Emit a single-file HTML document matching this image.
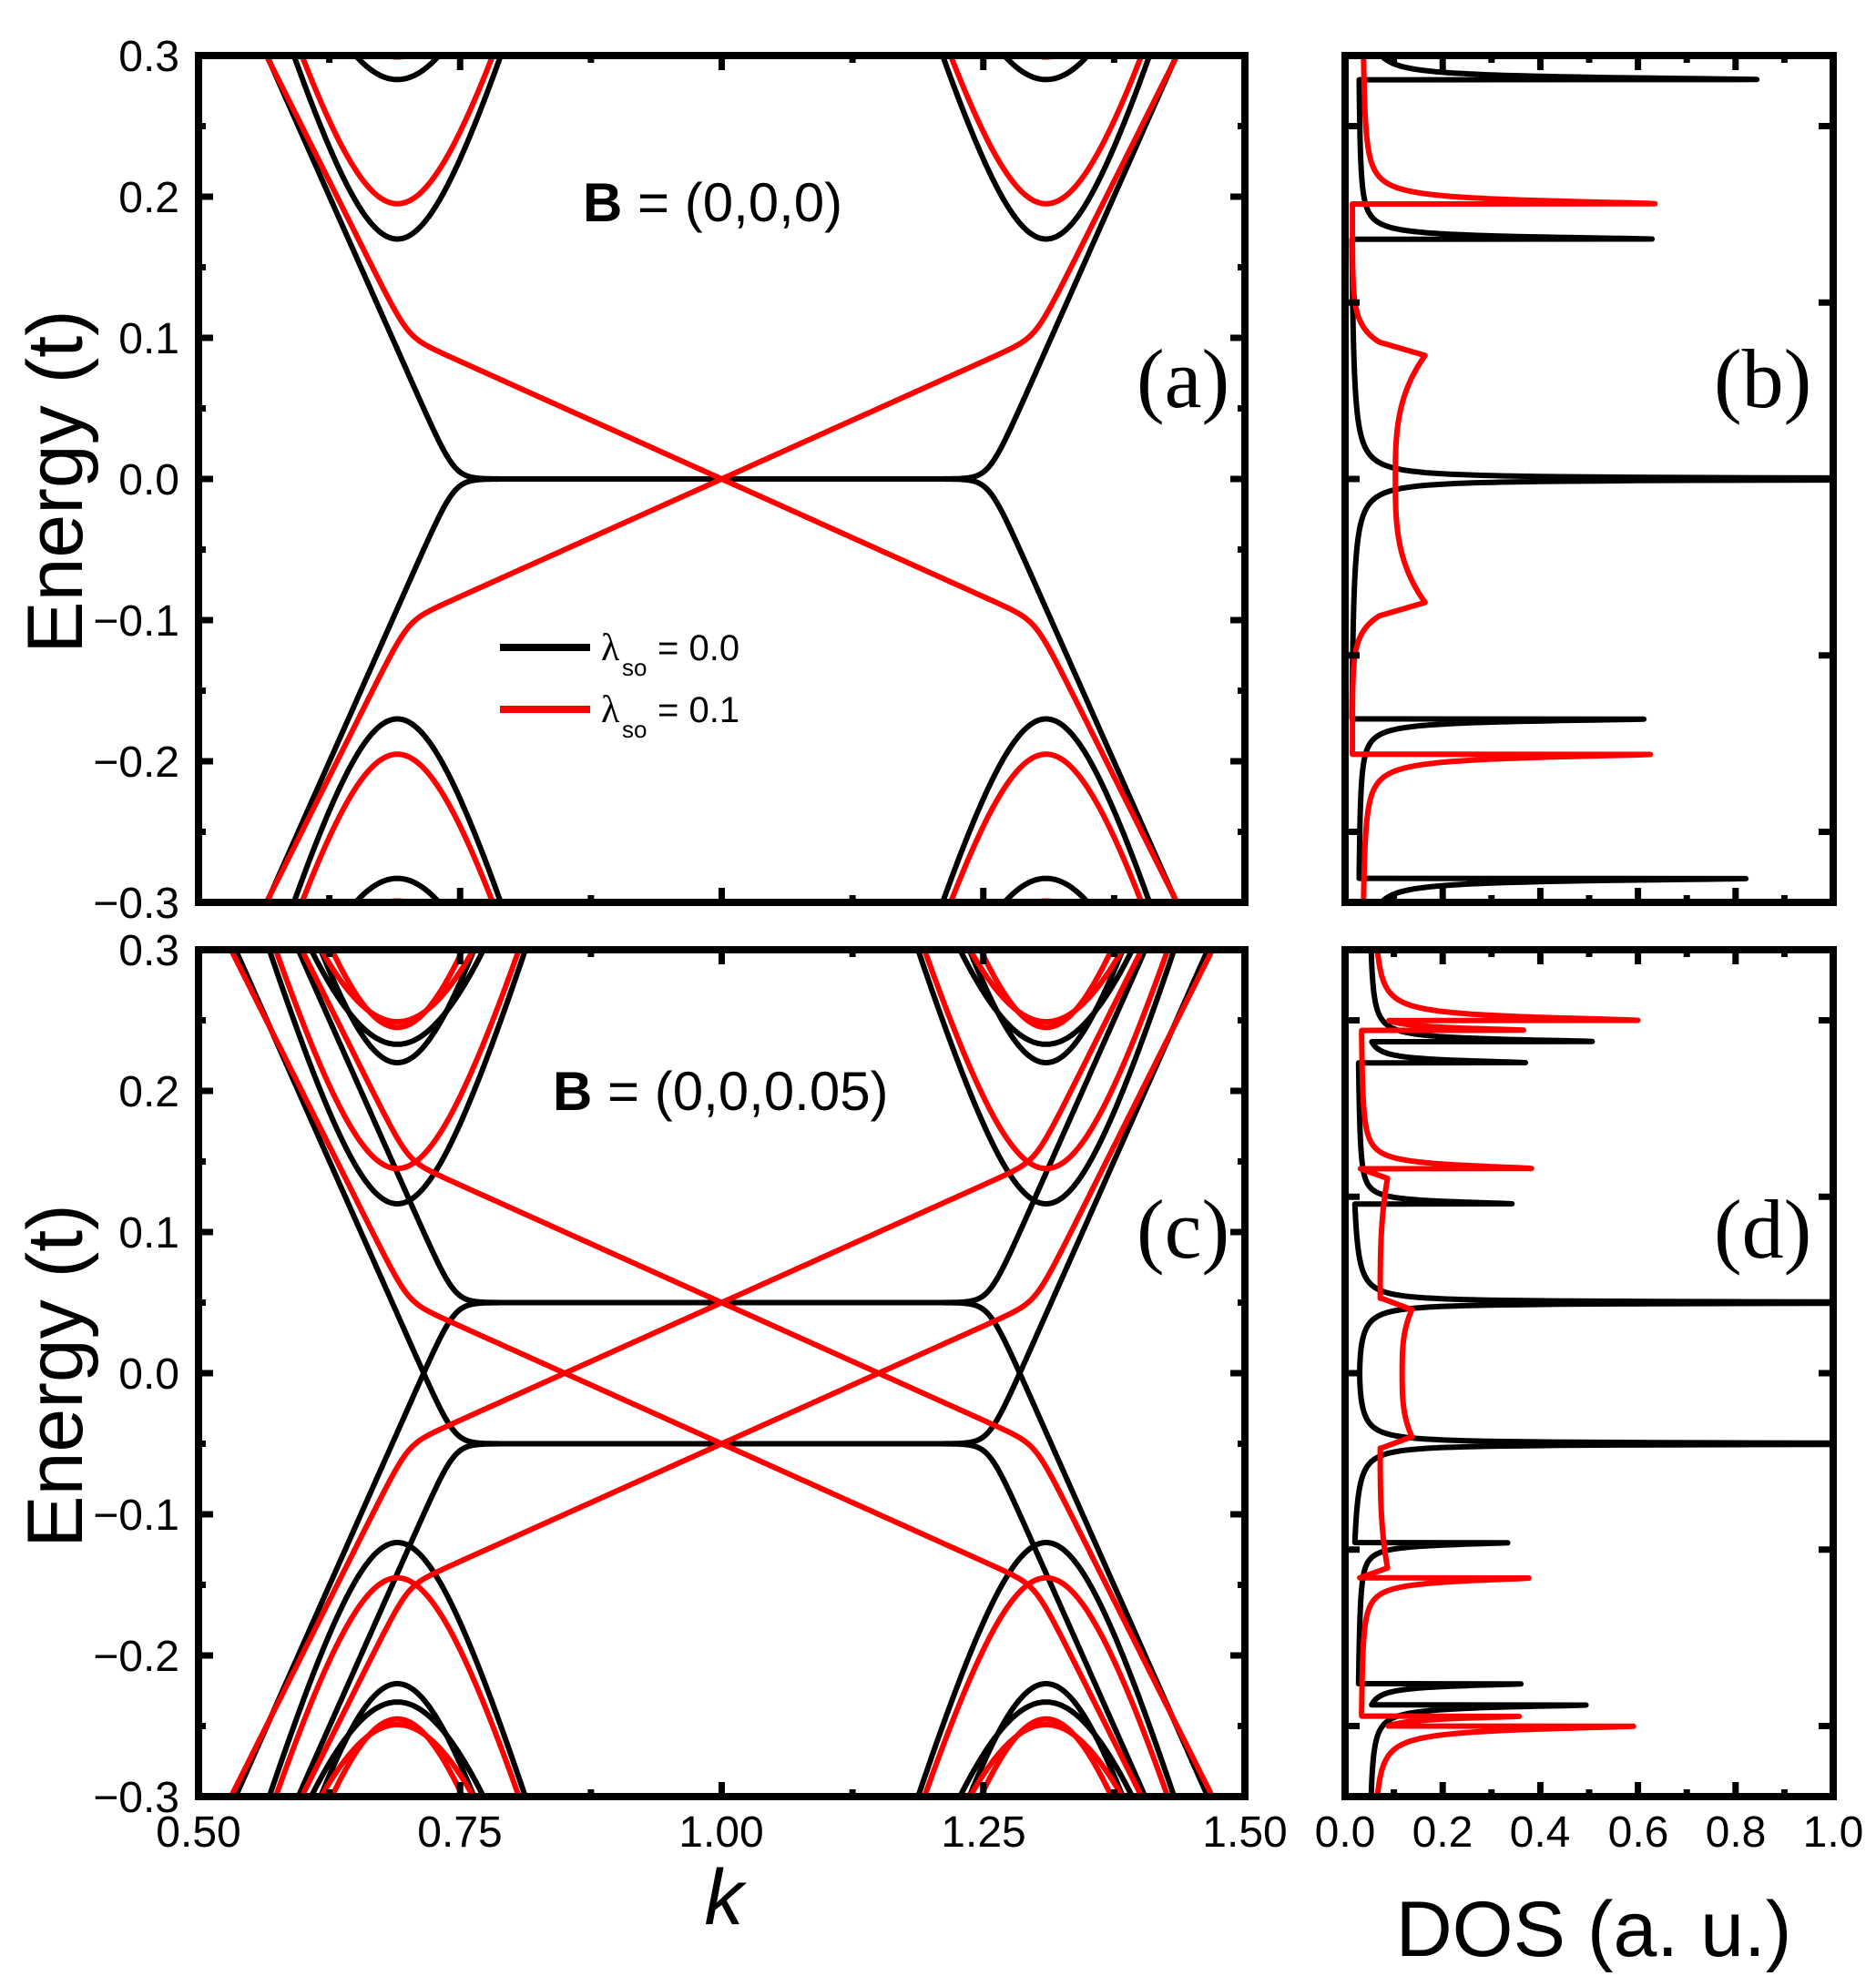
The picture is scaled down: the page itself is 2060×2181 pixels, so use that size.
<!DOCTYPE html>
<html><head><meta charset="utf-8"><style>
html,body{margin:0;padding:0;background:#fff;width:2060px;height:2181px;overflow:hidden;}
svg{display:block;}
text{font-family:"Liberation Sans",sans-serif;fill:#000;}
.t{font-size:48px;}
text.s{font-family:"Liberation Serif",serif;}
</style></head><body>
<svg id="g" width="2060" height="2181" viewBox="0 0 2060 2181" xmlns="http://www.w3.org/2000/svg" style="overflow:hidden">
<defs>
<clipPath id="ca"><rect x="218" y="61" width="1149" height="930"/></clipPath>
<clipPath id="cc"><rect x="218" y="1043" width="1149" height="930"/></clipPath>
<clipPath id="cb"><rect x="1477" y="61" width="536" height="930"/></clipPath>
<clipPath id="cd"><rect x="1477" y="1043" width="536" height="930"/></clipPath>
</defs>
<g id="curves"></g>
<g id="frames" fill="none" stroke="#000" stroke-width="8">
<rect x="218" y="61" width="1149" height="930"/>
<rect x="218" y="1043" width="1149" height="930"/>
<rect x="1477" y="61" width="536" height="930"/>
<rect x="1477" y="1043" width="536" height="930"/>
</g>
<g id="ticks" stroke="#000" stroke-width="7"></g>
<g class="t" text-anchor="end">
<text x="197" y="78">0.3</text><text x="197" y="233">0.2</text><text x="197" y="388">0.1</text><text x="197" y="543">0.0</text><text x="197" y="698">−0.1</text><text x="197" y="853">−0.2</text><text x="197" y="1008">−0.3</text>
<text x="197" y="1060">0.3</text><text x="197" y="1215">0.2</text><text x="197" y="1370">0.1</text><text x="197" y="1525">0.0</text><text x="197" y="1680">−0.1</text><text x="197" y="1835">−0.2</text><text x="197" y="1990">−0.3</text>
</g>
<g class="t" text-anchor="middle">
<text x="218" y="2028">0.50</text><text x="505" y="2028">0.75</text><text x="792" y="2028">1.00</text><text x="1080" y="2028">1.25</text><text x="1367" y="2028">1.50</text>
<text x="1477" y="2028">0.0</text><text x="1584" y="2028">0.2</text><text x="1691" y="2028">0.4</text><text x="1799" y="2028">0.6</text><text x="1906" y="2028">0.8</text><text x="2013" y="2028">1.0</text>
</g>
<text x="795" y="2113" font-size="86" font-style="italic" text-anchor="middle">k</text>
<text x="1750" y="2148" font-size="86" text-anchor="middle">DOS (a. u.)</text>
<text transform="translate(90,529) rotate(-90)" font-size="86" text-anchor="middle">Energy (t)</text>
<text transform="translate(90,1511) rotate(-90)" font-size="86" text-anchor="middle">Energy (t)</text>
<text x="640" y="243" font-size="60"><tspan font-weight="bold">B</tspan> = (0,0,0)</text>
<text x="607" y="1219" font-size="60"><tspan font-weight="bold">B</tspan> = (0,0,0.05)</text>
<text class="s" font-size="92" x="1248" y="447">(a)</text><text class="s" font-size="92" x="1882" y="447">(b)</text>
<text class="s" font-size="92" x="1248" y="1381">(c)</text><text class="s" font-size="92" x="1882" y="1381">(d)</text>
<line x1="549" y1="711" x2="648" y2="711" stroke="#000" stroke-width="8"/>
<line x1="549" y1="779" x2="648" y2="779" stroke="#f00" stroke-width="8"/>
<text x="660" y="725" font-size="42" class="s">λ</text><text x="683" y="742" font-size="26">so</text><text x="722" y="725" font-size="40">= 0.0</text>
<text x="660" y="793" font-size="42" class="s">λ</text><text x="683" y="810" font-size="26">so</text><text x="722" y="793" font-size="40">= 0.1</text>
</svg>
<script>
(function(){
var NS="http://www.w3.org/2000/svg";
var cur=document.getElementById('curves'), tk=document.getElementById('ticks');
function X(k){return 218+(k-0.5)*1149;}
function Ya(E){return 526-E*1550;}
function Yc(E){return 1508-E*1550;}
function DX(d){return 1477+d*536;}
function sp(x,w){return x/w>30?x:w*Math.log(1+Math.exp(x/w));}
function smax(a,b,w){return b+sp(a-b,w);}
function smin(a,b,w){return -smax(-a,-b,w);}
function edgeB(k){var q=k<=1?k:2-k;return sp(1.67*(0.745-q),0.012);}
function redA(k){var L=(1-k)/3,S1=0.1+1.48*(0.7-k),S2=-0.1-1.48*(k-1.3);return smin(smax(L,S1,0.008),S2,0.008);}
function sub(k,m,k0){var d=2.5*(k-k0);return Math.sqrt(m*m+d*d);}
function clampY(y){return Math.max(0,Math.min(2181,y));}
function path(fn,Y,color,clip){
  var d="";
  for(var i=0;i<=1000;i++){var k=0.5+i/1000;var y=clampY(Y(fn(k)));d+=(i?"L":"M")+X(k).toFixed(1)+" "+y.toFixed(1);}
  var p=document.createElementNS(NS,"path");p.setAttribute("d",d);p.setAttribute("fill","none");p.setAttribute("stroke",color);p.setAttribute("stroke-width","6");p.setAttribute("stroke-linejoin","round");p.setAttribute("clip-path","url(#"+clip+")");cur.appendChild(p);
}
var blackBands=[function(k){return edgeB(k);},function(k){return -edgeB(k);}];
[0.17,0.283].forEach(function(m){[0.69,1.31].forEach(function(c){blackBands.push(function(k){return sub(k,m,c);});blackBands.push(function(k){return -sub(k,m,c);});});});
var redBands=[function(k){return redA(k);},function(k){return -redA(k);}];
[0.195,0.299].forEach(function(m){[0.69,1.31].forEach(function(c){redBands.push(function(k){return sub(k,m,c);});redBands.push(function(k){return -sub(k,m,c);});});});
blackBands.forEach(function(f){path(f,Ya,"#000","ca");});
redBands.forEach(function(f){path(f,Ya,"#f00","ca");});
[0.05,-0.05].forEach(function(z){blackBands.forEach(function(f){path(function(k){return f(k)+z;},Yc,"#000","cc");});});
[0.05,-0.05].forEach(function(z){redBands.forEach(function(f){path(function(k){return f(k)+z;},Yc,"#f00","cc");});});
function spike(E,E0,s,peak,w,plat){var d=s*(E-E0);if(d<=0)return 0;return peak/(1+Math.pow(d/w,1.5))+plat;}
function spikes(E,list){var t=0;list.forEach(function(a){t+=spike(E,a[0],1,a[1],a[2],a[3])+spike(E,-a[0],-1,a[1],a[2],a[3]);});return t;}
function coreB(E){var a=Math.abs(E);if(a<0.0875)return 0.103+0.061*Math.pow(a/0.0875,3);if(a<0.097)return 0.164-(a-0.0875)/0.0095*0.094;return 0.015+0.055*Math.exp(-(a-0.097)/0.012);}
function coreD(E){var a=Math.abs(E);if(a<0.045)return 0.117+0.02*Math.pow(a/0.045,3);if(a<0.053)return 0.137-(a-0.045)/0.008*0.062;if(a<0.138)return 0.072+0.015*Math.pow((a-0.053)/0.085,3);if(a<0.145)return 0.087-(a-0.138)/0.007*0.057;return 0.02;}
var fb=function(E){return 0.01+Math.min(1.3,0.0007/Math.abs(E))+spikes(E,[[0.17,0.6,0.002,0.015],[0.283,0.8,0.002,0.015]]);};
var rb=function(E){return coreB(E)+spikes(E,[[0.195,0.6,0.003,0.02],[0.3,0.86,0.003,0.02]]);};
var fd=function(E){return 0.01+Math.min(1.3,0.0005/Math.abs(E-0.05))+Math.min(1.3,0.0005/Math.abs(E+0.05))+spikes(E,[[0.12,0.31,0.002,0.012],[0.22,0.33,0.002,0.012],[0.235,0.44,0.002,0.012],[0.333,0.8,0.002,0.012]]);};
var rd=function(E){return coreD(E)+spikes(E,[[0.145,0.35,0.003,0.012],[0.243,0.32,0.002,0.012],[0.25,0.5,0.003,0.012],[0.345,0.8,0.003,0.01]]);};
function dpath(fn,Y,color,clip){
  var d="";var n=3200;
  for(var i=0;i<=n;i++){var E=-0.32+0.64*i/n+0.00001;var v=fn(E);if(v>1.2)v=1.2;d+=(i?"L":"M")+DX(v).toFixed(1)+" "+clampY(Y(E)).toFixed(1);}
  var p=document.createElementNS(NS,"path");p.setAttribute("d",d);p.setAttribute("fill","none");p.setAttribute("stroke",color);p.setAttribute("stroke-width","6");p.setAttribute("stroke-linejoin","round");p.setAttribute("clip-path","url(#"+clip+")");cur.appendChild(p);
}
dpath(fb,Ya,"#000","cb");dpath(rb,Ya,"#f00","cb");
dpath(fd,Yc,"#000","cd");dpath(rd,Yc,"#f00","cd");
function ln(x1,y1,x2,y2){var l=document.createElementNS(NS,"line");l.setAttribute("x1",x1);l.setAttribute("y1",y1);l.setAttribute("x2",x2);l.setAttribute("y2",y2);tk.appendChild(l);}
[[61,Ya],[1043,Yc]].forEach(function(p){var top=p[0],Y=p[1],bot=top+930;
  for(var i=-6;i<=6;i++){var E=i*0.05,y=Y(E),L=(i%2==0)?16:8;ln(218,y,218+L,y);ln(1367,y,1367-L,y);}
  for(var j=0;j<=8;j++){var x=X(0.5+j*0.125),L=(j%2==0)?16:8;ln(x,top,x,top+L);ln(x,bot,x,bot-L);}
  for(var i=-2;i<=2;i++){var y=Y(i*0.125);ln(1477,y,1493,y);ln(2013,y,1997,y);}
  for(var j=0;j<=10;j++){var x=DX(j*0.1),L=(j%2==0)?16:8;ln(x,top,x,top+L);ln(x,bot,x,bot-L);}
});
})();
</script>
</body></html>
